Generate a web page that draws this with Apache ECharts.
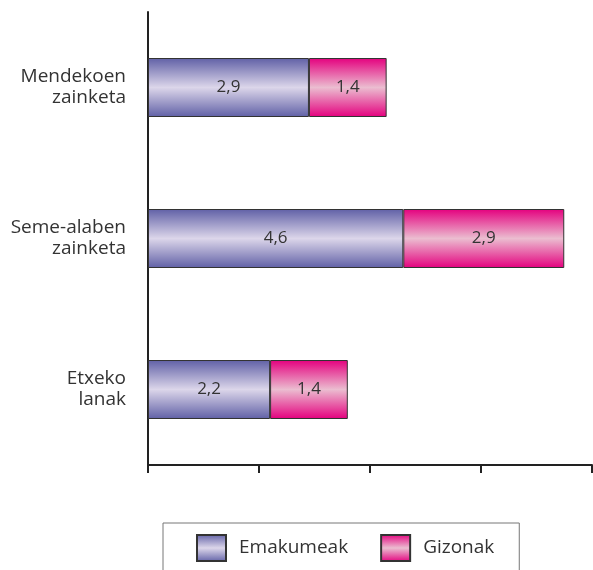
<!DOCTYPE html>
<html>
<head>
<meta charset="utf-8">
<script src="https://cdn.jsdelivr.net/npm/echarts@6/dist/echarts.min.js"></script>
<style>
  html, body { margin: 0; padding: 0; background: #fff; }
  #chart { width: 593px; height: 570px; }
</style>
</head>
<body>
<div id="chart"></div>
<script>
// datuak
const categories = ["Mendekoen\nzainketa", "Seme-alaben\nzainketa", "Etxeko\nlanak"];
const emakumeak = [2.9, 4.6, 2.2];
const gizonak = [1.4, 2.9, 1.4];
const xTicks = [0, 2, 4, 6, 8];

function grad(edge, mid) {
  return new echarts.graphic.LinearGradient(0, 0, 0, 1, [
    { offset: 0, color: edge },
    { offset: 0.5, color: mid },
    { offset: 1, color: edge }
  ]);
}

let myecharts = echarts.init(document.getElementById("chart"));
myecharts.setOption({
  textStyle: { fontFamily: "Open Sans" },
  grid: { left: 148, right: 1, top: 12, bottom: 105 },
  xAxis: {
    type: "value",
    min: xTicks[0],
    max: xTicks[xTicks.length - 1],
    interval: 2,
    axisLine: { show: true, lineStyle: { color: "#222", width: 2 } },
    axisTick: { show: true, length: 8, lineStyle: { color: "#222", width: 2 } },
    axisLabel: { show: false },
    splitLine: { show: false }
  },
  yAxis: {
    type: "category",
    data: categories,
    inverse: true,
    axisLine: { show: true, lineStyle: { color: "#222", width: 2 } },
    axisTick: { show: false },
    axisLabel: { color: "#333", fontSize: 19, lineHeight: 21, margin: 22, align: "right" }
  },
  legend: {
    left: 163,
    top: 523,
    padding: [11, 25, 20, 33],
    borderColor: "#777",
    borderWidth: 1,
    itemWidth: 29,
    itemHeight: 26,
    itemGap: 32,
    icon: "rect",
    textStyle: { color: "#333", fontSize: 19, padding: [0, 0, 0, 8] },
    data: ["Emakumeak", "Gizonak"]
  },
  series: [
    {
      name: "Emakumeak",
      type: "bar",
      stack: "guztira",
      data: emakumeak,
      barWidth: 59,
      itemStyle: { color: grad("#6060a6", "#dcd6ea"), borderColor: "#333", borderWidth: 1 },
      label: {
        show: true, position: "inside", color: "#333", fontSize: 17,
        formatter: p => String(p.value).replace(".", ",")
      }
    },
    {
      name: "Gizonak",
      type: "bar",
      stack: "guztira",
      data: gizonak,
      barWidth: 59,
      itemStyle: { color: grad("#e4007e", "#ebbdd0"), borderColor: "#333", borderWidth: 1 },
      label: {
        show: true, position: "inside", color: "#333", fontSize: 17,
        formatter: p => String(p.value).replace(".", ",")
      }
    }
  ]
});
</script>
</body>
</html>
